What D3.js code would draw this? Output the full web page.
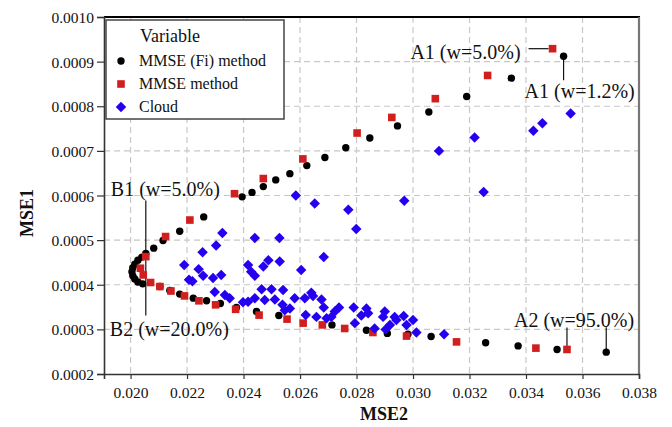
<!DOCTYPE html>
<html><head><meta charset="utf-8">
<script src="https://cdn.jsdelivr.net/npm/d3@7"></script>
<style>
html,body{margin:0;padding:0;background:#fff;}
svg{display:block;font-family:"Liberation Serif","Times New Roman",serif;}
</style></head>
<body><svg id="c" width="672" height="427"></svg>
<script>
// ---- data ----
const xTicks = [0.020,0.022,0.024,0.026,0.028,0.030,0.032,0.034,0.036,0.038];
const yTicks = [0.0002,0.0003,0.0004,0.0005,0.0006,0.0007,0.0008,0.0009,0.0010];
const seriesNames = ["MMSE (Fi) method","MMSE method","Cloud"];
const fiX = [0.03533,0.03348,0.03190,0.03056,0.02945,0.02847,0.02762,0.02688,0.02624,0.02564,0.02514,0.02470,0.02430,0.02395,0.02259,0.02174,0.02115,0.02082,0.02054,
  0.02040,0.02026,0.02015,0.02008,0.02005,0.02008,0.02015,0.02026,0.02043,
  0.02104,0.02139,0.02174,0.02222,0.02269,0.02318,0.02375,0.02446,0.02525,0.02713,0.02835,0.02909,0.02982,0.03064,0.03257,0.03372,0.03510,0.03684];
const fiY = [0.000912,0.000863,0.000822,0.000787,0.000756,0.000729,0.000707,0.000685,0.000667,0.000649,0.000635,0.000620,0.000607,0.000597,0.000552,0.000520,0.000499,0.000482,0.000470,
  0.000462,0.000455,0.000446,0.000438,0.000429,0.000420,0.000413,0.000406,0.000402,
  0.000396,0.000387,0.000379,0.000370,0.000364,0.000358,0.000349,0.000340,0.000331,0.000310,0.000298,0.000291,0.000289,0.000284,0.000270,0.000263,0.000255,0.000249];
const mmX = [0.03494,0.03264,0.03079,0.02925,0.02802,0.02610,0.02470,0.02368,0.02210,0.02124,0.02054,0.02035,0.02045,0.02071,0.02104,0.02143,0.02191,0.02242,0.02301,0.02372,0.02455,0.02554,0.02611,0.02679,0.02758,0.02858,0.02977,0.03154,0.03435,0.03545];
const mmY = [0.000929,0.000869,0.000817,0.000775,0.000740,0.000682,0.000638,0.000604,0.000545,0.000508,0.000463,0.000437,0.000422,0.000405,0.000396,0.000386,0.000375,0.000364,0.000355,0.000345,0.000332,0.000323,0.000314,0.000310,0.000302,0.000293,0.000285,0.000272,0.000258,0.000255];
const clX = [0.03558,0.03458,0.03426,0.03218,0.03092,0.02969,0.03250,0.02771,0.02799,0.02652,0.02585,0.02684,
  0.02325,0.02303,0.02255,0.02440,0.02527,0.02190,0.02241,0.02207,0.02219,0.02257,0.02292,0.02321,0.02416,0.02427,0.02440,0.02470,0.02488,0.02528,0.02604,
  0.02298,0.02334,0.02351,0.02398,0.02416,0.02440,0.02464,0.02475,0.02499,0.02511,0.02540,0.02538,0.02546,0.02564,0.02581,
  0.02640,0.02617,0.02646,0.02676,0.02684,0.02620,0.02658,0.02694,0.02711,0.02723,0.02738,0.02790,0.02794,0.02817,0.02835,0.02841,0.02864,0.02900,0.02894,0.02918,0.02903,0.02935,0.02941,0.02967,0.02977,0.03000,0.03012,0.03110];
const clY = [0.000784,0.000762,0.000745,0.000730,0.000700,0.000588,0.000608,0.000568,0.000525,0.000582,0.000600,0.000462,
  0.000516,0.000488,0.000473,0.000505,0.000505,0.000444,0.000435,0.000411,0.000408,0.000420,0.000415,0.000422,0.000444,0.000429,0.000420,0.000441,0.000455,0.000452,0.000433,
  0.000384,0.000377,0.000370,0.000361,0.000362,0.000370,0.000390,0.000366,0.000390,0.000367,0.000388,0.000355,0.000343,0.000347,0.000370,
  0.000382,0.000370,0.000375,0.000367,0.000349,0.000332,0.000328,0.000325,0.000328,0.000340,0.000349,0.000349,0.000314,0.000331,0.000347,0.000336,0.000302,0.000340,0.000328,0.000310,0.000300,0.000328,0.000321,0.000330,0.000310,0.000321,0.000293,0.000289];
const annoText = ["A1 (w=5.0%)","A1 (w=1.2%)","B1 (w=5.0%)","B2 (w=20.0%)","A2 (w=95.0%)"];

// ---- chart ----
const svg = d3.select("#c");
const L=104,R=639,T=17,B=374;
const x = d3.scaleLinear().domain([0.01906,0.038]).range([L,R]);
const y = d3.scaleLinear().domain([0.0002,0.0010]).range([B,T]);

// grid
const g = svg.append("g");
g.selectAll(".gx").data(xTicks.slice(0,-1)).join("line")
  .attr("x1",d=>x(d)).attr("x2",d=>x(d)).attr("y1",T).attr("y2",B)
  .attr("stroke","#c8c8c8").attr("stroke-width",1.2).attr("stroke-dasharray","6,4");
g.selectAll(".gy").data(yTicks.slice(1,-1)).join("line")
  .attr("y1",d=>y(d)).attr("y2",d=>y(d)).attr("x1",L).attr("x2",R)
  .attr("stroke","#c8c8c8").attr("stroke-width",1.2).attr("stroke-dasharray","6,4");

// frame top/right
svg.append("line").attr("x1",L).attr("x2",R+1).attr("y1",T).attr("y2",T).attr("stroke","#000").attr("stroke-width",1.8);
svg.append("line").attr("x1",R).attr("x2",R).attr("y1",T).attr("y2",B).attr("stroke","#777").attr("stroke-width",2.2);

// axes
const xAxis = svg.append("g").attr("transform",`translate(0,${B})`)
  .call(d3.axisBottom(x).tickValues(xTicks).tickFormat(d3.format(".3f")).tickSize(5).tickPadding(8));
const yAxis = svg.append("g").attr("transform",`translate(${L},0)`)
  .call(d3.axisLeft(y).tickValues(yTicks).tickFormat(d3.format(".4f")).tickSize(7).tickPadding(3));
[xAxis,yAxis].forEach(a=>{
  a.select(".domain").attr("stroke","#333").attr("stroke-width",1.6);
  a.selectAll(".tick line").attr("stroke","#333").attr("stroke-width",1.2);
  a.selectAll("text").attr("font-family","Liberation Serif, serif").attr("font-size",15.5).attr("fill","#111");
});
yAxis.selectAll("text").attr("dy","0.36em");

// axis titles
svg.append("text").attr("x",384).attr("y",420).attr("text-anchor","middle")
  .attr("font-weight","bold").attr("font-size",18).attr("fill","#111").text("MSE2");
svg.append("text").attr("transform","translate(33,213) rotate(-90)").attr("text-anchor","middle")
  .attr("font-weight","bold").attr("font-size",18).attr("fill","#111").text("MSE1");

const colBlack="#000", colRed="#d11f1f", colBlue="#2400f0";
const fi = fiX.map((v,i)=>({x:v,y:fiY[i]}));
const mm = mmX.map((v,i)=>({x:v,y:mmY[i]}));
const cl = clX.map((v,i)=>({x:v,y:clY[i]}));

const diamond = d3.symbol().type(d3.symbolDiamond2).size(70);

// annotation leader lines (under markers)
const ann = svg.append("g");
const lineAttr = sel=>sel.attr("stroke","#111").attr("stroke-width",1.2);
// A1 5.0% -> red square
ann.append("line").attr("x1",x(mm[0].x)-24).attr("x2",x(mm[0].x)-4).attr("y1",y(mm[0].y)).attr("y2",y(mm[0].y)).call(lineAttr);
// A1 1.2% -> black circle
ann.append("line").attr("x1",x(fi[0].x)).attr("x2",x(fi[0].x)).attr("y1",y(fi[0].y)).attr("y2",y(fi[0].y)+24).call(lineAttr);
// B1/B2 vertical line through nose
const bP = fi[18];
ann.append("line").attr("x1",x(bP.x)).attr("x2",x(bP.x)).attr("y1",y(bP.y)-53).attr("y2",y(bP.y)+62).call(lineAttr);
// A2 -> red square and black circle
const a2r = mm[mm.length-1], a2b = fi[fi.length-1];
ann.append("line").attr("x1",x(a2r.x)).attr("x2",x(a2r.x)).attr("y1",y(a2r.y)-22).attr("y2",y(a2r.y)).call(lineAttr);
ann.append("line").attr("x1",x(a2b.x)).attr("x2",x(a2b.x)).attr("y1",y(a2b.y)-25).attr("y2",y(a2b.y)).call(lineAttr);

// markers
svg.append("g").selectAll("circle").data(fi).join("circle")
  .attr("cx",d=>x(d.x)).attr("cy",d=>y(d.y)).attr("r",3.7).attr("fill",colBlack);
svg.append("g").selectAll("rect").data(mm).join("rect")
  .attr("x",d=>x(d.x)-3.8).attr("y",d=>y(d.y)-3.8).attr("width",7.6).attr("height",7.6).attr("fill",colRed);
svg.append("g").selectAll("path").data(cl).join("path")
  .attr("transform",d=>`translate(${x(d.x)},${y(d.y)})`).attr("d",diamond).attr("fill",colBlue);

// annotation text
const at = svg.append("g").attr("font-size",20).attr("fill","#111");
at.append("text").attr("x",x(mm[0].x)-32).attr("y",y(mm[0].y)+10).attr("text-anchor","end").text(annoText[0]);
at.append("text").attr("x",x(fi[0].x)-39).attr("y",y(fi[0].y)+42).text(annoText[1]);
at.append("text").attr("x",x(bP.x)-35).attr("y",y(bP.y)-57.5).text(annoText[2]);
at.append("text").attr("x",x(bP.x)-36).attr("y",y(bP.y)+82.5).text(annoText[3]);
at.append("text").attr("x",x(a2r.x)-53).attr("y",y(a2r.y)-22.5).text(annoText[4]);

// legend
const lg = svg.append("g");
lg.append("rect").attr("x",106).attr("y",20).attr("width",178).attr("height",99)
  .attr("fill","#fff").attr("stroke","#444").attr("stroke-width",1.5);
lg.append("text").attr("x",140).attr("y",42).attr("font-size",18).attr("fill","#111").text("Variable");
const rowsY=[61,84,107];
seriesNames.forEach((n,i)=>{
  lg.append("text").attr("x",139).attr("y",rowsY[i]+4.5).attr("font-size",16).attr("fill","#111").text(n);
});
lg.append("circle").attr("cx",121).attr("cy",rowsY[0]).attr("r",3.7).attr("fill",colBlack);
lg.append("rect").attr("x",121-3.8).attr("y",rowsY[1]-3.8).attr("width",7.6).attr("height",7.6).attr("fill",colRed);
lg.append("path").attr("transform",`translate(121,${rowsY[2]})`).attr("d",diamond).attr("fill",colBlue);
</script></body></html>
